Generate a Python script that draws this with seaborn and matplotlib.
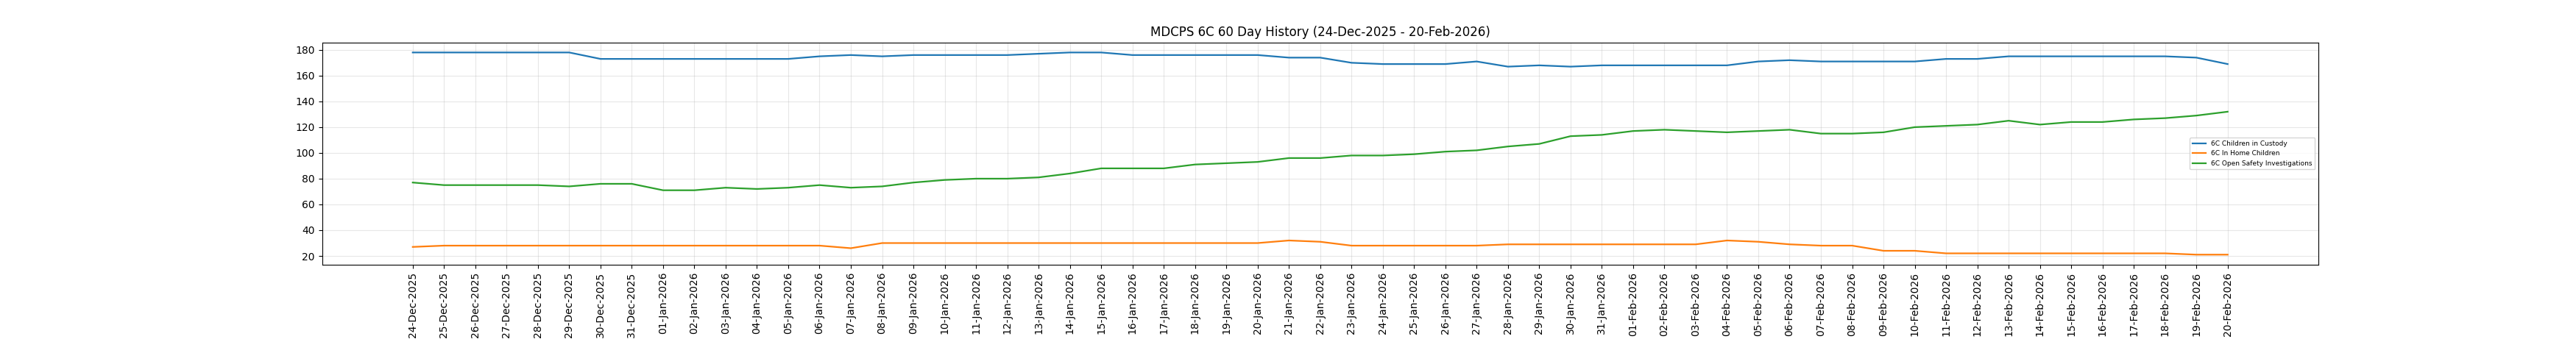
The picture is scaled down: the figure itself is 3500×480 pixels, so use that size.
import pandas as pd
import matplotlib
matplotlib.use('Agg')
import matplotlib.pyplot as plt
import matplotlib.dates as mdates
import seaborn as sns

# Daily values, 24-Dec-2025 .. 20-Feb-2026 (59 days)
dates = pd.date_range('2025-12-24', '2026-02-20', freq='D')

custody = [178, 178, 178, 178, 178, 178,
           173, 173, 173, 173, 173, 173, 173,
           175, 176, 175, 176, 176, 176, 176, 177, 178, 178,
           176, 176, 176, 176, 176, 174, 174,
           170, 169, 169, 169, 171, 167, 168, 167,
           168, 168, 168, 168, 168, 171, 172, 171, 171, 171, 171,
           173, 173, 175, 175, 175, 175, 175, 175, 174, 169]

in_home = [27, 28, 28, 28, 28, 28, 28, 28, 28, 28, 28, 28, 28, 28,
           26, 30, 30, 30, 30, 30, 30, 30, 30, 30, 30, 30, 30, 30,
           32, 31, 28, 28, 28, 28, 28, 29, 29, 29, 29, 29, 29, 29,
           32, 31, 29, 28, 28, 24, 24, 22, 22, 22, 22, 22, 22, 22, 22,
           21, 21]

investigations = [77, 75, 75, 75, 75, 74, 76, 76, 71, 71, 73, 72, 73, 75,
                  73, 74, 77, 79, 80, 80, 81, 84, 88, 88, 88, 91, 92, 93,
                  96, 96, 98, 98, 99, 101, 102, 105, 107, 113, 114, 117,
                  118, 117, 116, 117, 118, 115, 115, 116, 120, 121, 122,
                  125, 122, 124, 124, 126, 127, 129, 132]

series_names = ['6C Children in Custody', '6C In Home Children',
                '6C Open Safety Investigations']
colors = ['#1f77b4', '#ff7f0e', '#2ca02c']

df = pd.DataFrame({'date': dates,
                   series_names[0]: custody,
                   series_names[1]: in_home,
                   series_names[2]: investigations})
df = df.melt(id_vars='date', var_name='series', value_name='count')

fig, ax = plt.subplots(figsize=(35, 4.8))
sns.lineplot(data=df, x='date', y='count', hue='series',
             palette=colors, linewidth=1.6, ax=ax)

# one tick per data day only
ax.set_xticks(dates)
ax.xaxis.set_major_formatter(mdates.DateFormatter('%d-%b-%Y'))
plt.setp(ax.get_xticklabels(), rotation=90)
ax.tick_params(labelsize=10, length=3.5)
ax.set_xlabel('')
ax.set_ylabel('')
ax.grid(True, alpha=0.3)
ax.legend(loc='center right', fontsize=6.5)
ax.set_title('MDCPS 6C 60 Day History (24-Dec-2025 - 20-Feb-2026)', fontsize=12)

fig.subplots_adjust(left=0.125, right=0.9, top=0.88, bottom=0.25)
fig.savefig('out.png', dpi=100)
plt.close()
